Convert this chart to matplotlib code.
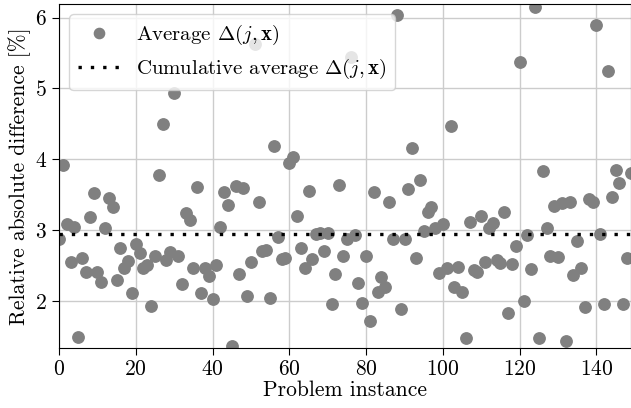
import numpy as np
import matplotlib
matplotlib.use("Agg")
import matplotlib.pyplot as plt

plt.rcParams['font.family'] = 'serif'
plt.rcParams['font.serif'] = ['cmr10', 'DejaVu Serif']
plt.rcParams['mathtext.fontset'] = 'cm'
plt.rcParams['axes.formatter.use_mathtext'] = True
plt.rcParams['axes.unicode_minus'] = False

# average relative absolute difference per problem instance [%]
avg_diff = [
    2.87, 3.92, 3.08, 2.55, 3.04, 1.49, 2.61, 2.41, 3.18, 3.52,
    2.41, 2.26, 3.03, 3.45, 3.32, 2.30, 2.74, 2.46, 2.56, 2.11,
    2.80, 2.67, 2.46, 2.50, 1.93, 2.63, 3.78, 4.50, 2.57, 2.69,
    4.94, 2.63, 2.24, 3.24, 3.14, 2.46, 3.61, 2.11, 2.46, 2.35,
    2.03, 2.50, 3.04, 3.54, 3.35, 1.36, 3.62, 2.38, 3.59, 2.07,
    2.55, 5.62, 3.40, 2.70, 2.72, 2.04, 4.19, 2.90, 2.59, 2.60,
    3.95, 4.03, 3.20, 2.75, 2.47, 3.55, 2.59, 2.95, 2.96, 2.70,
    2.96, 1.96, 2.38, 3.64, 2.63, 2.88, 5.44, 2.93, 2.25, 1.97,
    2.63, 1.72, 3.53, 2.12, 2.34, 2.19, 3.39, 2.88, 6.04, 1.88,
    2.87, 3.58, 4.16, 2.61, 3.71, 2.99, 3.26, 3.32, 3.03, 2.40,
    3.08, 2.46, 4.47, 2.19, 2.48, 2.12, 1.47, 3.12, 2.44, 2.41,
    3.20, 2.55, 3.03, 3.10, 2.58, 2.53, 3.25, 1.83, 2.52, 2.78,
    5.37, 2.00, 2.93, 2.45, 6.15, 1.47, 3.84, 3.03, 2.63, 3.34,
    2.62, 3.38, 1.44, 3.40, 2.36, 2.85, 2.47, 1.92, 3.44, 3.40,
    5.89, 2.95, 1.96, 5.24, 3.46, 3.85, 3.67, 1.96, 2.61, 3.81,
]
cumulative_avg = 2.95

instance = np.arange(len(avg_diff))

fig = plt.figure(figsize=(6.31, 4.08), dpi=100)
ax = fig.add_axes([0.0935, 0.148, 0.9065, 0.842])

ax.grid(True, color='0.8', linewidth=1.0, zorder=0)
ax.set_axisbelow(True)

ax.plot(instance, avg_diff, 'o', color='gray', markersize=8.2,
        label=r'Average $\Delta(j, \mathbf{x})$', zorder=2)
ax.axhline(cumulative_avg, color='black', linewidth=2.4, dashes=(1, 2.7),
           label=r'Cumulative average $\Delta(j, \mathbf{x})$', zorder=3)

ax.set_xlim(0, 149)
ax.set_ylim(1.34, 6.19)
ax.set_xticks([0, 20, 40, 60, 80, 100, 120, 140])
ax.set_yticks([2, 3, 4, 5, 6])
ax.tick_params(labelsize=15.5, length=5)

ax.set_xlabel('Problem instance', fontsize=15.5, labelpad=1)
ax.set_ylabel('Relative absolute difference [%]', fontsize=15.5, labelpad=3)

ax.legend(loc='upper left', fontsize=15, borderaxespad=0.5, markerscale=0.9)

fig.savefig('out.png', dpi=100)
